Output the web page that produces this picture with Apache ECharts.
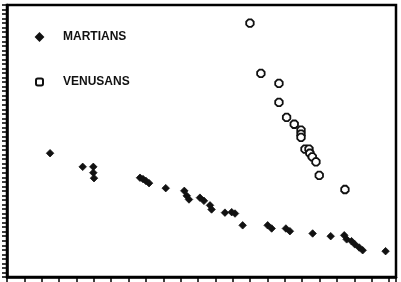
<!DOCTYPE html>
<html>
<head>
<meta charset="utf-8">
<script src="https://cdn.jsdelivr.net/npm/echarts@6/dist/echarts.min.js"></script>
<style>
html,body{margin:0;padding:0;background:#fff;}
#chart{width:401px;height:282px;}
</style>
</head>
<body>
<div id="chart"></div>
<script>
var seriesNames = ['MARTIANS', 'VENUSANS'];

var martiansX = [2.48, 4.36, 4.97, 4.97, 5.01, 7.66, 7.83, 8.00, 8.18, 9.14, 10.21, 10.35, 10.48, 11.11, 11.34, 11.69, 11.78, 12.55, 12.94, 13.13, 13.57, 15.01, 15.24, 16.06, 16.29, 17.60, 18.64, 19.42, 19.56, 19.84, 20.03, 20.28, 20.48, 21.80];
var martiansY = [27.3, 24.3, 24.3, 23.0, 21.8, 21.9, 21.6, 21.2, 20.7, 19.6, 19.0, 17.9, 17.1, 17.5, 16.8, 15.8, 14.9, 14.2, 14.3, 14.0, 11.4, 11.4, 10.7, 10.7, 10.1, 9.6, 9.0, 9.2, 8.3, 7.9, 7.2, 6.5, 5.9, 5.7];

var venusansX = [13.99, 14.62, 15.66, 15.66, 16.10, 16.54, 16.93, 16.93, 16.93, 17.16, 17.39, 17.44, 17.58, 17.79, 17.98, 19.46];
var venusansY = [56.0, 44.9, 42.7, 38.5, 35.2, 33.7, 32.4, 31.5, 30.8, 28.2, 28.2, 27.3, 26.5, 25.4, 22.4, 19.3];

function pairs(xs, ys) {
  var out = [];
  for (var i = 0; i < xs.length; i++) out.push([xs[i], ys[i]]);
  return out;
}

var octagon = 'path://M3,0 L7,0 L10,3 L10,7 L7,10 L3,10 L0,7 L0,3 Z';

var chart = echarts.init(document.getElementById('chart'), null, {renderer: 'canvas'});
chart.setOption({
  animation: false,
  backgroundColor: '#fff',
  grid: {
    left: 7, right: 5, top: 5, bottom: 5,
    show: true, borderColor: '#000', borderWidth: 2.5, backgroundColor: '#fff'
  },
  legend: {
    orient: 'vertical',
    left: 35, top: 31,
    padding: 0,
    itemWidth: 7, itemHeight: 7,
    itemGap: 33,
    data: [
      {name: seriesNames[0], icon: 'diamond'},
      {name: seriesNames[1], icon: 'roundRect'}
    ],
    textStyle: {
      fontFamily: 'Liberation Sans, Arial, sans-serif',
      fontWeight: 'bold', fontSize: 12, color: '#111',
      padding: [0, 0, 0, 15]
    }
  },
  xAxis: {
    type: 'value', min: 0, max: 22.4, interval: 1,
    axisLine: {show: true, onZero: false, lineStyle: {color: '#000', width: 2.5}},
    axisTick: {show: true, inside: false, length: 5, lineStyle: {color: '#000', width: 1.5}},
    axisLabel: {show: false},
    splitLine: {show: false}
  },
  yAxis: {
    type: 'value', min: 0, max: 60, interval: 1,
    axisLine: {show: true, onZero: false, lineStyle: {color: '#000', width: 2.5}},
    axisTick: {show: true, inside: false, length: 5, lineStyle: {color: '#000', width: 1.5}},
    axisLabel: {show: false},
    splitLine: {show: false}
  },
  series: [
    {
      name: seriesNames[0], type: 'scatter',
      symbol: 'diamond', symbolSize: 7.5,
      itemStyle: {color: '#111', borderColor: '#111', borderWidth: 0.8, opacity: 1},
      data: pairs(martiansX, martiansY)
    },
    {
      name: seriesNames[1], type: 'scatter',
      symbol: octagon, symbolSize: 7.5,
      itemStyle: {color: '#fff', borderColor: '#111', borderWidth: 1.8, opacity: 1},
      data: pairs(venusansX, venusansY)
    }
  ]
});
</script>
</body>
</html>
